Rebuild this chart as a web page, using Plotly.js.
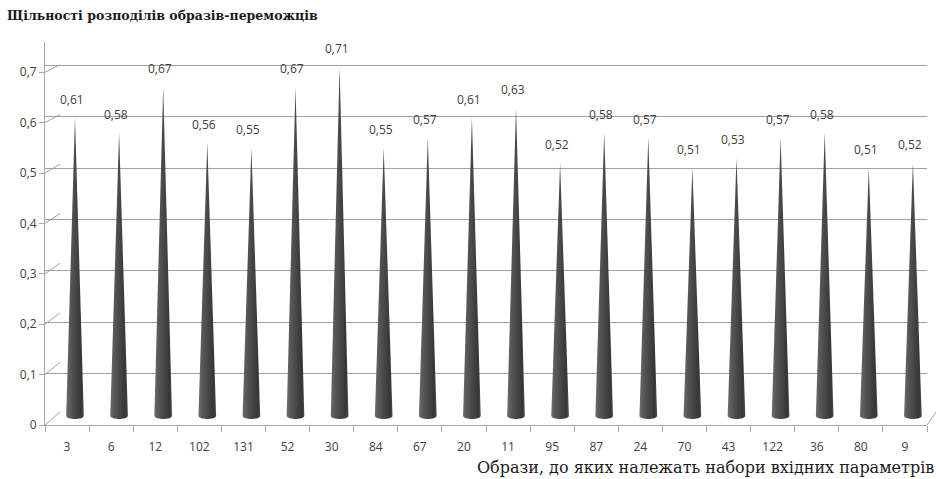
<!DOCTYPE html>
<html>
<head>
<meta charset="utf-8">
<script src="https://cdn.plot.ly/plotly-3.0.1.min.js"></script>
<style>html,body{margin:0;padding:0;background:#fff;}#chart{width:936px;height:479px;}</style>
</head>
<body>
<div id="chart"></div>
<script>
// ---- data ----
const categories = ['3','6','12','102','131','52','30','84','67','20','11','95','87','24','70','43','122','36','80','9'];
const values = [0.61,0.58,0.67,0.56,0.55,0.67,0.71,0.55,0.57,0.61,0.63,0.52,0.58,0.57,0.51,0.53,0.57,0.58,0.51,0.52];
const yTicks = [0,0.1,0.2,0.3,0.4,0.5,0.6,0.7];
const yTickText = ['0','0,1','0,2','0,3','0,4','0,5','0,6','0,7'];
const chartTitle = 'Щільності розподілів образів-переможців';
const xTitle = 'Образи, до яких належать набори вхідних параметрів';

// ---- geometry / style ----
const W = 936, H = 479;
const M = {l:45, r:0, t:42, b:54};
const plotW = W - M.l - M.r, plotH = H - M.t - M.b;
const DX = 15, DY = 13;               // 3D depth offset in px
const Y_RANGE = 0.76;
const Y2_RANGE = (plotH - DY) / 496;  // back wall scale
const frontXEnd = 882 / plotW;
const backXStart = DX / plotW;
const backYStart = DY / plotH;
const SHIFT = 0.18, HW = 0.2, BASE = 0.018, E = 0.006;
const axisColor = '#a8a8a8', gridColor = '#a0a0a0', txtColor = '#404040';
const serif = 'DejaVu Serif';
const sans = 'Open Sans';

const traces = [];
categories.forEach((c, i) => {
  const v = values[i];
  const cx = i + SHIFT;
  const xs = [cx], ys = [v];
  const N = 20;
  for (let k = 0; k <= N; k++) {
    const t = k / N * Math.PI;
    xs.push(cx + HW * Math.cos(t));
    ys.push(BASE - E * Math.sin(t));
  }
  xs.push(cx); ys.push(v);
  traces.push({
    type: 'scatter', x: xs, y: ys, mode: 'none', fill: 'toself',
    fillgradient: {type: 'horizontal', colorscale: [[0,'#6c6c6c'],[0.2,'#5a5a5a'],[0.55,'#464646'],[0.85,'#363636'],[1,'#4a4a4a']]},
    hoverinfo: 'skip', showlegend: false, xaxis: 'x', yaxis: 'y'
  });
});
// empty trace for back-wall subplot
traces.push({type:'scatter', x:[], y:[], xaxis:'x2', yaxis:'y2', showlegend:false, hoverinfo:'skip'});

const annotations = categories.map((c, i) => ({
  x: i + SHIFT, y: values[i], xref: 'x', yref: 'y',
  text: values[i].toFixed(2).replace('.', ','),
  showarrow: false, yanchor: 'bottom', xanchor: 'center', xshift: -3, yshift: 8,
  font: {family: sans, size: 12, color: txtColor}
}));
annotations.push({
  text: xTitle, xref: 'paper', yref: 'paper', x: 1, y: -(467 - (H - M.b)) / plotH,
  xanchor: 'right', yanchor: 'middle', showarrow: false,
  font: {family: serif, size: 16, color: '#1a1a1a'}
});

const shapes = [];
yTicks.forEach(v => {
  shapes.push({type:'line', xref:'paper', yref:'paper',
    x0: 0, y0: v / Y_RANGE,
    x1: backXStart, y1: backYStart + (v / Y2_RANGE) * (1 - backYStart),
    line: {color: gridColor, width: 1}});
});
shapes.push({type:'line', xref:'paper', yref:'paper', x0: frontXEnd, y0: 0, x1: 1, y1: backYStart,
  line: {color: axisColor, width: 1}});

const boundaries = categories.map((c, i) => i - 0.5).concat([categories.length - 0.5]);

const layout = {
  width: W, height: H, margin: M,
  paper_bgcolor: '#fff', plot_bgcolor: 'rgba(0,0,0,0)',
  separators: ', ',
  showlegend: false,
  title: {text: chartTitle, x: 7 / W, xanchor: 'left', xref: 'container', y: 1 - 16 / H, yanchor: 'middle', yref: 'container',
    font: {family: serif, size: 12.5, color: '#1a1a1a', weight: 'bold'}},
  xaxis: {domain: [0, frontXEnd], range: [-0.5, categories.length - 0.5], anchor: 'y',
    showline: true, linecolor: axisColor, linewidth: 1, showgrid: false, zeroline: false,
    tickmode: 'array', tickvals: categories.map((c, i) => i), ticktext: categories, ticks: '',
    ticklabelstandoff: 11,
    minor: {tickmode: 'array', tickvals: boundaries, ticks: 'outside', ticklen: 6, tickcolor: axisColor, showgrid: false},
    tickfont: {family: sans, size: 12, color: txtColor}, fixedrange: true},
  yaxis: {domain: [0, 1], range: [0, Y_RANGE], anchor: 'x',
    showline: true, linecolor: axisColor, linewidth: 1, showgrid: false, zeroline: false,
    tickmode: 'array', tickvals: yTicks, ticktext: yTickText, ticks: 'outside', ticklen: 5, tickcolor: axisColor,
    tickfont: {family: sans, size: 12, color: txtColor}, fixedrange: true},
  xaxis2: {domain: [backXStart, 1], range: [0, 1], anchor: 'y2', overlaying: 'x', visible: false, showgrid: false, zeroline: false},
  yaxis2: {domain: [backYStart, 1], range: [0, Y2_RANGE], anchor: 'x2', overlaying: 'y',
    showgrid: true, gridcolor: gridColor, gridwidth: 1, zeroline: false, showline: false,
    tickmode: 'array', tickvals: yTicks, showticklabels: false, ticks: ''},
  shapes: shapes,
  annotations: annotations
};

Plotly.newPlot('chart', traces, layout, {displayModeBar: false, staticPlot: true});
</script>
</body>
</html>
